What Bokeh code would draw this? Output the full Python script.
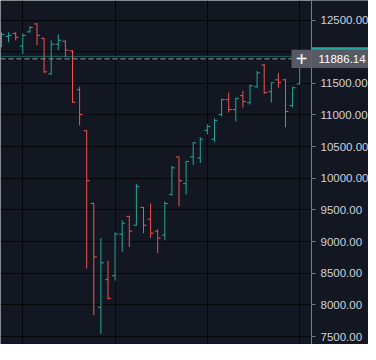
import numpy as np
from bokeh.plotting import figure
from bokeh.models import (Range1d, FixedTicker, Span, Label, BoxAnnotation,
                          ColumnDataSource, NumeralTickFormatter)
from bokeh.embed import file_html
from bokeh.resources import INLINE

# ---- data ----
opens = [12117, 12242, 12289, 12086, 12312, 12437, 12211, 11648, 12117, 12164,
         12012, 11398, 10750, 9602, 7961, 8398, 8461, 9117, 9398, 9258,
         9539, 9352, 9164, 9102, 9742, 10336, 9914, 10336, 10320, 10758,
         10617, 11008, 11242, 11086, 11305, 11195, 11445, 11789, 11367, 11555,
         11555, 11148, 11492]
highs = [12305, 12305, 12305, 12289, 12398, 12453, 12216, 12180, 12273, 12180,
         12023, 11445, 10758, 9610, 9055, 8695, 9148, 9336, 9405, 9914,
         9545, 9602, 9195, 9633, 10195, 10340, 10273, 10570, 10648, 10852,
         10945, 11258, 11352, 11273, 11383, 11477, 11695, 11805, 11515, 11664,
         11570, 11445, 11940]
lows = [12070, 12148, 12180, 11961, 12305, 12102, 11664, 11633, 12023, 11914,
        11195, 10836, 8575, 7836, 7539, 8086, 8383, 8836, 8914, 9250,
        9133, 9055, 8820, 9023, 9727, 9555, 9742, 10211, 10242, 10695,
        10570, 10977, 11039, 10898, 11117, 11164, 11430, 11336, 11195, 11430,
        10805, 11117, 11477]
closes = [12273, 12258, 12227, 12258, 12383, 12258, 11680, 12117, 12180, 12023,
          11200, 11008, 9961, 8758, 8664, 8102, 9117, 9289, 9164, 9867,
          9258, 9133, 9055, 9602, 10164, 9961, 10265, 10560, 10617, 10820,
          10914, 11242, 11086, 11258, 11211, 11461, 11664, 11352, 11508, 11508,
          11055, 11430, 11925]
price_ticks = [7500, 8000, 8500, 9000, 9500, 10000, 10500, 11000, 11500, 12000, 12500]
hidden_tick = 12000          # label hidden under the crosshair label
vgrid_bars = [3, 16, 29, 42]
crosshair_price = 11886.14

# ---- style / geometry ----
BG = "#131722"
UP = "#26a69a"
DOWN = "#ef5350"
GRID = "#05070b"
LABEL_GRAY = "#565a64"
AXIS_TXT = "#d1d4dc"
AXIS_LINE = "#787b86"
FONT = "Liberation Sans"

W, H = 368, 344
PX_PER_BAR = 7.1
FIRST_BAR_PX = 1.0
AXIS_PX = 311
X0 = (0 - FIRST_BAR_PX) / PX_PER_BAR
X1 = (W - FIRST_BAR_PX) / PX_PER_BAR
PX_PER_PRICE = 0.0633
Y1 = 12500 + 19.5 / PX_PER_PRICE
Y0 = Y1 - H / PX_PER_PRICE


def cx(px):
    """canvas pixel -> bar index coordinate"""
    return (px - FIRST_BAR_PX) / PX_PER_BAR


n = len(opens)
idx = np.arange(n)
up = np.array(closes) >= np.array(opens)
colors = np.where(up, UP, DOWN).tolist()
tick = 0.42
src = ColumnDataSource(dict(x=idx, o=opens, h=highs, l=lows, c=closes,
                            xl=idx - tick, xr=idx + tick, color=colors))

p = figure(width=W, height=H, output_backend="svg", toolbar_location=None,
           x_range=Range1d(X0, X1), y_range=Range1d(Y0, Y1),
           y_axis_location="right", min_border_left=0, min_border_right=0,
           min_border_top=0, min_border_bottom=0)
p.background_fill_color = BG
p.border_fill_color = BG
p.outline_line_color = None

p.xaxis.ticker = FixedTicker(ticks=vgrid_bars)
p.xgrid.ticker = FixedTicker(ticks=vgrid_bars)
p.xaxis.visible = False
p.ygrid.ticker = FixedTicker(ticks=price_ticks)
p.xgrid.grid_line_color = GRID
p.ygrid.grid_line_color = GRID

# price-scale area background (hides grid lines there)
p.add_layout(BoxAnnotation(left=cx(AXIS_PX), fill_color=BG, fill_alpha=1,
                           line_color=None, level="underlay"))

ax = p.yaxis[0]
ax.fixed_location = cx(AXIS_PX)
ax.ticker = FixedTicker(ticks=[t for t in price_ticks if t != hidden_tick])
ax.formatter = NumeralTickFormatter(format="0.00")
ax.major_label_text_color = AXIS_TXT
ax.major_label_text_font = FONT
ax.major_label_text_font_size = "11.5px"
ax.axis_line_color = AXIS_LINE
ax.major_tick_line_color = AXIS_LINE
ax.major_tick_out = 4
ax.major_tick_in = 0
ax.minor_tick_line_color = None
ax.major_label_standoff = 5

p.segment(x0="x", y0="l", x1="x", y1="h", line_color="color", line_width=1, source=src)
p.segment(x0="xl", y0="o", x1="x", y1="o", line_color="color", line_width=1, source=src)
p.segment(x0="x", y0="c", x1="xr", y1="c", line_color="color", line_width=1, source=src)

last_close = closes[-1]
p.add_layout(Span(location=last_close, dimension="width", line_color=UP,
                  line_dash="1 1", line_width=1))
p.add_layout(Span(location=crosshair_price, dimension="width", line_color="#9598a1",
                  line_dash="5 3", line_width=1))

half = 9.2 / PX_PER_PRICE
# last-price label (teal, mostly hidden) and crosshair label (gray)
p.add_layout(BoxAnnotation(left=cx(AXIS_PX), bottom=last_close - half, top=last_close + half,
                           fill_color=UP, fill_alpha=1, line_color=None))
p.add_layout(BoxAnnotation(left=cx(AXIS_PX), bottom=crosshair_price - half,
                           top=crosshair_price + half,
                           fill_color=LABEL_GRAY, fill_alpha=1, line_color=None))
p.add_layout(BoxAnnotation(left=cx(AXIS_PX - 20), right=cx(AXIS_PX),
                           bottom=crosshair_price - half, top=crosshair_price + half,
                           fill_color=LABEL_GRAY, fill_alpha=1, line_color=None))
p.add_layout(Label(x=cx(AXIS_PX - 10), y=crosshair_price, text="+",
                   text_align="center", text_baseline="middle", text_color="white",
                   text_font=FONT, text_font_size="20px"))
p.add_layout(Label(x=cx(AXIS_PX + 7), y=crosshair_price, text=f"{crosshair_price:.2f}",
                   text_baseline="middle", text_color="white", text_font=FONT,
                   text_font_size="11.5px"))

open("out.html", "w").write(file_html(p, INLINE))
